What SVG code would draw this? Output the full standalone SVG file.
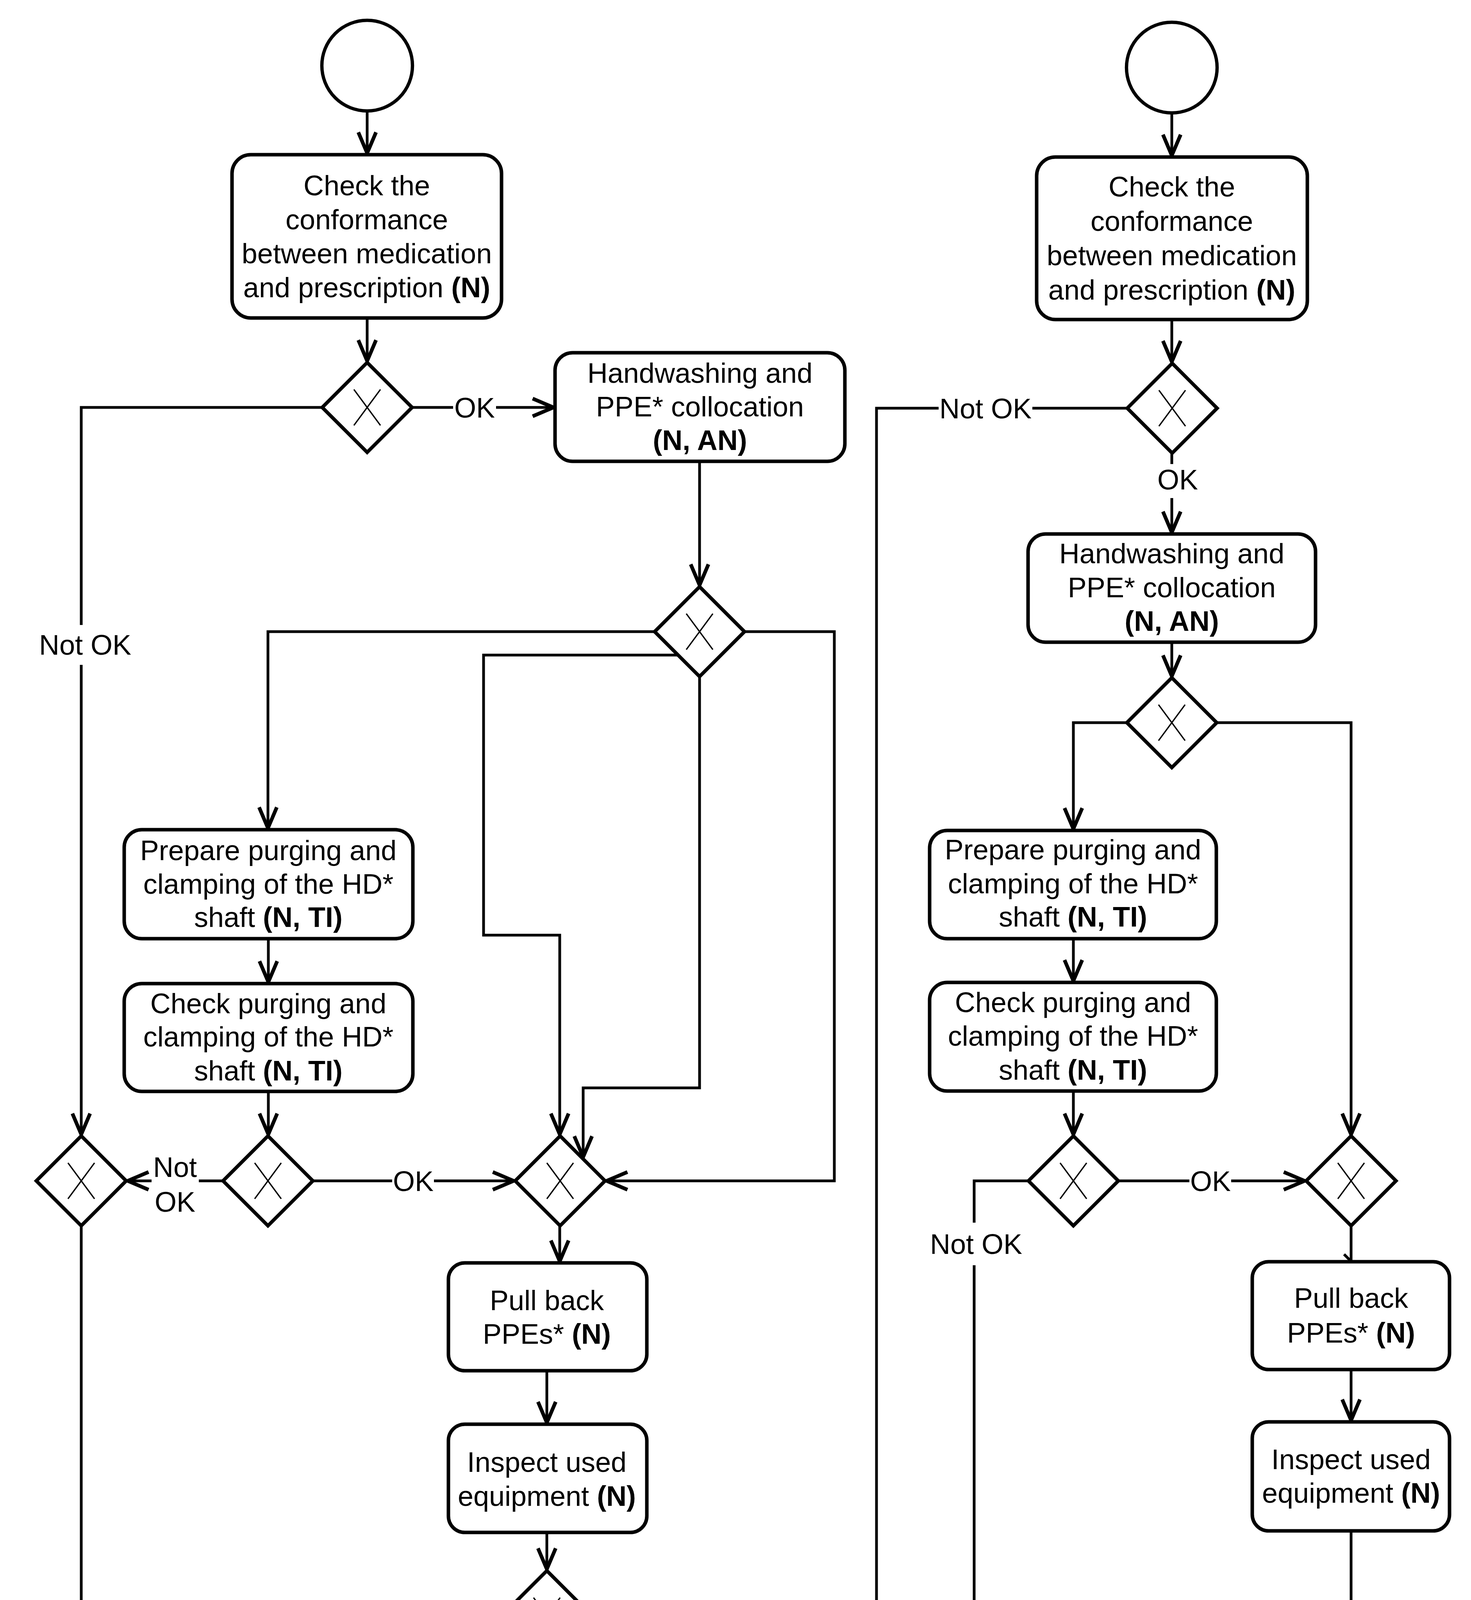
<svg xmlns="http://www.w3.org/2000/svg" width="3766" height="5502" viewBox="0 0 3766 5502">
<style>
.box{fill:#fff;stroke:#000;stroke-width:9}
.gw{fill:#fff;stroke:#000;stroke-width:9;stroke-linejoin:miter}
.xm{fill:none;stroke:#000;stroke-width:3.5}
.ev{fill:#fff;stroke:#000;stroke-width:8.5}
.end{fill:#fff;stroke:#000;stroke-width:23}
.c{fill:none;stroke:#000;stroke-width:7}
.a{marker-end:url(#arr)}
text{font-family:"Liberation Sans",Arial,Helvetica,sans-serif;font-size:72px;fill:#000;text-anchor:middle}
.b{font-weight:bold}
.cap{font-family:"Liberation Serif","Times New Roman",serif;font-size:80px}
</style>
<defs>
<marker id="arr" markerUnits="userSpaceOnUse" markerWidth="80" markerHeight="80" viewBox="-50 -30 60 60" refX="3" refY="0" orient="auto" overflow="visible">
<path d="M-40,-17 L0,0 L-40,17" fill="none" stroke="#000" stroke-width="7"/>
</marker>
<clipPath id="clipEnd"><rect x="0" y="0" width="3766" height="5302"/></clipPath>
<g id="gwshape">
<path class="gw" d="M0,-115 L115,0 L0,115 L-115,0 Z"/>
<path class="xm" d="M-34,-46 L34,46 M34,-46 L-34,46"/>
</g>
</defs>
<rect x="0" y="0" width="3766" height="5502" fill="#fff"/>

<g id="connectors">
<!-- left panel -->
<path class="c a" d="M940,284 L940,396"/>
<path class="c a" d="M940,814 L940,928"/>
<path class="c" d="M1055,1043 L1160,1043"/>
<path class="c a" d="M1270,1043 L1421,1043"/>
<path class="c" d="M825,1043 L208,1043 L208,1600"/>
<path class="c a" d="M208,1702 L208,2908"/>
<path class="c a" d="M1791,1181 L1791,1502"/>
<path class="c a" d="M1676,1617 L686,1617 L686,2124"/>
<path class="c a" d="M1737,1677 L1238,1677 L1238,2394 L1433,2394 L1433,2908"/>
<path class="c a" d="M1791,1732 L1791,2785 L1493,2785 L1493,2966"/>
<path class="c a" d="M1906,1617 L2136,1617 L2136,3023 L1549,3023"/>
<path class="c a" d="M687,2403 L687,2518"/>
<path class="c a" d="M687,2794 L687,2908"/>
<path class="c" d="M571,3023 L509,3023"/>
<path class="c a" d="M388,3023 L323,3023"/>
<path class="c" d="M801,3023 L1004,3023"/>
<path class="c a" d="M1111,3023 L1319,3023"/>
<path class="c a" d="M1433,3138 L1433,3233"/>
<path class="c a" d="M1400,3509 L1400,3646"/>
<path class="c a" d="M1400,3923 L1400,4021"/>
<path class="c" d="M1285,4136 L990,4136"/>
<path class="c a" d="M748,4136 L663,4136 L663,4552 L1285,4552"/>
<path class="c" d="M1400,4251 L1400,4282"/>
<path class="c a" d="M1400,4365 L1400,4437"/>
<path class="c a" d="M1400,4667 L1400,4761"/>
<path class="c a" d="M1148,4858 L640,4858"/>
<path class="c a" d="M208,3138 L208,4858 L410,4858"/>
<path class="c a" d="M525,4973 L525,5064"/>
<text x="1215" y="1069">OK</text>
<text x="218" y="1676">Not OK</text>
<text x="448" y="3013">Not</text>
<text x="448" y="3102">OK</text>
<text x="1058" y="3049">OK</text>
<text x="869" y="4162">Not OK</text>
<text x="1406" y="4351">OK</text>
<!-- right panel -->
<path class="c a" d="M3000,289 L3000,402"/>
<path class="c a" d="M3000,818 L3000,930"/>
<path class="c" d="M2886,1045 L2643,1045"/>
<path class="c a" d="M2403,1045 L2244,1045 L2244,4850 L2379,4850"/>
<path class="c" d="M3000,1160 L3000,1188"/>
<path class="c a" d="M3000,1275 L3000,1367"/>
<path class="c a" d="M3000,1644 L3000,1735"/>
<path class="c a" d="M2885,1850 L2748,1850 L2748,2126"/>
<path class="c a" d="M3115,1850 L3459,1850 L3459,2908"/>
<path class="c a" d="M2748,2403 L2748,2515"/>
<path class="c a" d="M2748,2793 L2748,2908"/>
<path class="c" d="M2863,3023 L3045,3023"/>
<path class="c a" d="M3152,3023 L3344,3023"/>
<path class="c" d="M2633,3023 L2494,3023 L2494,3130"/>
<path class="c a" d="M2494,3239 L2494,4735"/>
<path class="c" d="M3459,3138 L3459,3230 M3441,3211 L3459,3229"/>
<path class="c a" d="M3459,3506 L3459,3640"/>
<path class="c a" d="M3459,3919 L3459,4750"/>
<path class="c a" d="M3206,4850 L2609,4850"/>
<path class="c a" d="M2494,4965 L2494,5057"/>
<text x="2523" y="1071">Not OK</text>
<text x="3015" y="1253">OK</text>
<text x="3099" y="3049">OK</text>
<text x="2499" y="3210">Not OK</text>
</g>

<!-- left panel nodes -->
<g id="a_start"><circle class="ev" cx="940" cy="168" r="116"/></g>
<g id="a_check">
<rect class="box" x="594" y="396" width="690" height="418" rx="48"/>
<text x="939" y="500">Check the</text>
<text x="939" y="587">conformance</text>
<text x="939" y="674">between medication</text>
<text x="939" y="761">and prescription <tspan class="b">(N)</tspan></text>
</g>
<g id="a_gw1"><use href="#gwshape" x="940" y="1043"/></g>
<g id="a_hand1">
<rect class="box" x="1421" y="903" width="742" height="278" rx="45"/>
<text x="1792" y="980">Handwashing and</text>
<text x="1792" y="1066">PPE* collocation</text>
<text x="1792" y="1152" class="b">(N, AN)</text>
</g>
<g id="a_gw2"><use href="#gwshape" x="1791" y="1617"/></g>
<g id="a_prep">
<rect class="box" x="318" y="2124" width="739" height="279" rx="45"/>
<text x="687" y="2202">Prepare purging and</text>
<text x="687" y="2288">clamping of the HD*</text>
<text x="687" y="2373">shaft <tspan class="b">(N, TI)</tspan></text>
</g>
<g id="a_chk">
<rect class="box" x="318" y="2518" width="739" height="276" rx="45"/>
<text x="687" y="2594">Check purging and</text>
<text x="687" y="2679">clamping of the HD*</text>
<text x="687" y="2766">shaft <tspan class="b">(N, TI)</tspan></text>
</g>
<g id="a_gw3"><use href="#gwshape" x="686" y="3023"/></g>
<g id="a_gw4"><use href="#gwshape" x="208" y="3023"/></g>
<g id="a_gw5"><use href="#gwshape" x="1434" y="3023"/></g>
<g id="a_pull">
<rect class="box" x="1148" y="3233" width="508" height="276" rx="42"/>
<text x="1400" y="3354">Pull back</text>
<text x="1400" y="3440">PPEs* <tspan class="b">(N)</tspan></text>
</g>
<g id="a_insp">
<rect class="box" x="1148" y="3646" width="508" height="277" rx="42"/>
<text x="1400" y="3768">Inspect used</text>
<text x="1400" y="3855">equipment <tspan class="b">(N)</tspan></text>
</g>
<g id="a_gw6"><use href="#gwshape" x="1400" y="4136"/></g>
<g id="a_gw7"><use href="#gwshape" x="1400" y="4552"/></g>
<g id="a_hw">
<rect class="box" x="1148" y="4761" width="508" height="199" rx="38"/>
<text x="1400" y="4840">Handwashing</text>
<text x="1400" y="4927" class="b">(N, AN)</text>
</g>
<g id="a_gw8"><use href="#gwshape" x="525" y="4858"/></g>
<g id="a_end" clip-path="url(#clipEnd)"><circle class="end" cx="525" cy="5189" r="113"/></g>

<!-- right panel nodes -->
<g id="b_start"><circle class="ev" cx="3000" cy="173" r="116"/></g>
<g id="b_check">
<rect class="box" x="2654" y="402" width="693" height="416" rx="48"/>
<text x="3000" y="503">Check the</text>
<text x="3000" y="591">conformance</text>
<text x="3000" y="679">between medication</text>
<text x="3000" y="767">and prescription <tspan class="b">(N)</tspan></text>
</g>
<g id="b_gw1"><use href="#gwshape" x="3001" y="1045"/></g>
<g id="b_hand1">
<rect class="box" x="2632" y="1367" width="736" height="277" rx="45"/>
<text x="3000" y="1442">Handwashing and</text>
<text x="3000" y="1529">PPE* collocation</text>
<text x="3000" y="1615" class="b">(N, AN)</text>
</g>
<g id="b_gw2"><use href="#gwshape" x="3000" y="1850"/></g>
<g id="b_prep">
<rect class="box" x="2380" y="2126" width="734" height="277" rx="45"/>
<text x="2747" y="2200">Prepare purging and</text>
<text x="2747" y="2287">clamping of the HD*</text>
<text x="2747" y="2372">shaft <tspan class="b">(N, TI)</tspan></text>
</g>
<g id="b_chk">
<rect class="box" x="2380" y="2515" width="734" height="278" rx="45"/>
<text x="2747" y="2591">Check purging and</text>
<text x="2747" y="2677">clamping of the HD*</text>
<text x="2747" y="2764">shaft <tspan class="b">(N, TI)</tspan></text>
</g>
<g id="b_gw3"><use href="#gwshape" x="2748" y="3023"/></g>
<g id="b_gw4"><use href="#gwshape" x="3459" y="3023"/></g>
<g id="b_pull">
<rect class="box" x="3206" y="3230" width="505" height="276" rx="42"/>
<text x="3459" y="3348">Pull back</text>
<text x="3459" y="3437">PPEs* <tspan class="b">(N)</tspan></text>
</g>
<g id="b_insp">
<rect class="box" x="3206" y="3640" width="505" height="279" rx="42"/>
<text x="3459" y="3761">Inspect used</text>
<text x="3459" y="3847">equipment <tspan class="b">(N)</tspan></text>
</g>
<g id="b_hw">
<rect class="box" x="3206" y="4750" width="505" height="199" rx="38"/>
<text x="3459" y="4834">Handwashing</text>
<text x="3459" y="4921" class="b">(N, AN)</text>
</g>
<g id="b_gw5"><use href="#gwshape" x="2494" y="4850"/></g>
<g id="b_end" clip-path="url(#clipEnd)"><circle class="end" cx="2495" cy="5182" r="113"/></g>

<g id="captions">
<text class="cap" x="1136" y="5442">(<tspan font-weight="bold">a</tspan>) BPMN after first stage</text>
<text class="cap" x="2962" y="5437">(<tspan font-weight="bold">b</tspan>) BPMN after second stage</text>
</g>
</svg>
